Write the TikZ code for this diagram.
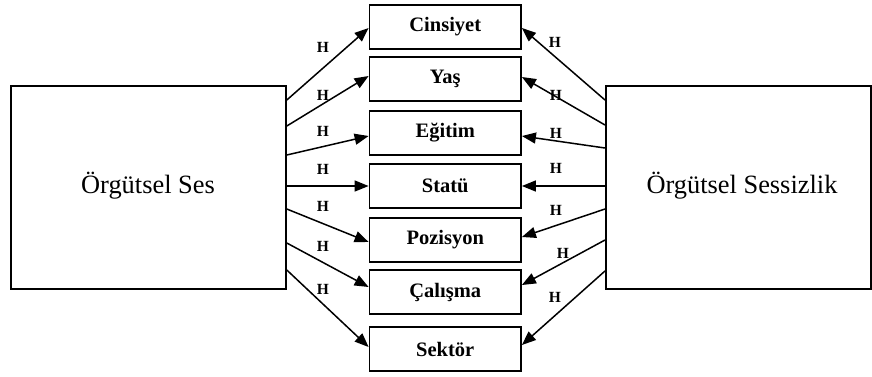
\documentclass[tikz,border=0pt]{standalone}
\usepackage{fontspec}
\setmainfont{Liberation Serif}
\usetikzlibrary{arrows.meta}
\begin{document}
\begin{tikzpicture}[x=1pt,y=-1pt,
  bigbox/.style={draw,line width=1.8pt,inner sep=0pt,anchor=north west},
  varbox/.style={draw,line width=1.8pt,minimum width=151.5pt,minimum height=44pt,
    inner sep=0pt,font=\fontsize{20.5}{24}\selectfont\bfseries},
  link/.style={line width=1.5pt,-{Triangle[length=14pt,width=11pt]}},
  hlab/.style={font=\fontsize{15.5}{17}\selectfont\bfseries,inner sep=0pt}]
\useasboundingbox (0,0) rectangle (872,376);

% side boxes
\node[bigbox,minimum width=275pt,minimum height=203pt] (L) at (10,85) {};
\node[font=\fontsize{26.4}{30}\selectfont] (Lt) at (148,186) {Örgütsel Ses};
\node[bigbox,minimum width=265pt,minimum height=203pt] (R) at (605,85) {};
\node[font=\fontsize{26.4}{30}\selectfont] (Rt) at (742,186) {Örgütsel Sessizlik};

% variable boxes
\node[varbox] (v1) at (445.25,27) {Cinsiyet};
\node[varbox] (v2) at (445.25,79) {Yaş};
\node[varbox] (v3) at (445.25,133) {Eğitim};
\node[varbox] (v4) at (445.25,186) {Statü};
\node[varbox] (v5) at (445.25,240) {Pozisyon};
\node[varbox] (v6) at (445.25,292) {Çalışma};
\node[varbox] (v7) at (445.25,349) {Sektör};

% arrows from the left box
\draw[link] (L.east |- 0,100) -- ([yshift=-1pt]v1.west);
\draw[link] (L.east |- 0,126) -- ([yshift=3pt]v2.west);
\draw[link] (L.east |- 0,155) -- ([yshift=-3pt]v3.west);
\draw[link] (L.east |- 0,186) -- (v4.west);
\draw[link] (L.east |- 0,209) -- ([yshift=-2pt]v5.west);
\draw[link] (L.east |- 0,243) -- ([yshift=5pt]v6.west);
\draw[link] (L.east |- 0,270) -- ([yshift=2pt]v7.west);

% arrows from the right box
\draw[link] (R.west |- 0,100) -- ([yshift=-1pt]v1.east);
\draw[link] (R.west |- 0,125) -- ([yshift=2pt]v2.east);
\draw[link] (R.west |- 0,148) -- ([yshift=-3pt]v3.east);
\draw[link] (R.west |- 0,186) -- (v4.east);
\draw[link] (R.west |- 0,209) -- ([yshift=3pt]v5.east);
\draw[link] (R.west |- 0,240) -- ([yshift=7pt]v6.east);
\draw[link] (R.west |- 0,271) -- ([yshift=4pt]v7.east);

% H labels
\foreach \n/\y in {a1/47,a2/95,a3/131,a4/169,a5/206,a6/246,a7/289}
  \node[hlab] (\n) at (323,\y) {H};
\foreach \n/\x/\y in {b1/555/42,b2/556/95,b3/556/133,b4/556/168,b5/556/210,b6/563/253,b7/555/297}
  \node[hlab] (\n) at (\x,\y) {H};
\end{tikzpicture}
\end{document}
